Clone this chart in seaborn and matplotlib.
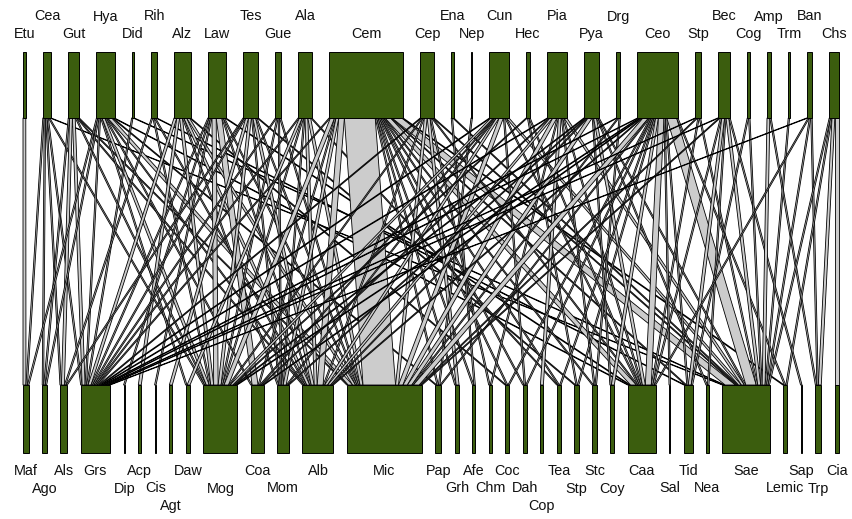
import pandas as pd
import numpy as np
import matplotlib
matplotlib.use("Agg")
import matplotlib.pyplot as plt
import seaborn as sns

# Species of the two levels, left to right
high_names = ["Etu", "Cea", "Gut", "Hya", "Did", "Rih", "Alz", "Law", "Tes", "Gue",
              "Ala", "Cem", "Cep", "Ena", "Nep", "Cun", "Hec", "Pia", "Pya", "Drg",
              "Ceo", "Stp", "Bec", "Cog", "Amp", "Trm", "Ban", "Chs"]
low_names = ["Maf", "Ago", "Als", "Grs", "Dip", "Acp", "Cis", "Agt", "Daw", "Mog",
             "Coa", "Mom", "Alb", "Mic", "Pap", "Grh", "Afe", "Chm", "Coc", "Dah",
             "Cop", "Tea", "Stp", "Stc", "Coy", "Caa", "Sal", "Tid", "Nea", "Sae",
             "Lemic", "Sap", "Trp", "Cia"]

# Interactions of each higher-level species: (lower species, count)
Etu = [("Maf", 2)]
Cea = [("Maf", 1), ("Ago", 1), ("Als", 1), ("Grs", 1), ("Mog", 1), ("Sae", 1)]
Gut = [("Ago", 1), ("Als", 2), ("Grs", 2), ("Mog", 1), ("Alb", 1), ("Mic", 1)]
Hya = [("Maf", 1), ("Ago", 1), ("Grs", 1), ("Daw", 1), ("Mog", 2), ("Coa", 1),
       ("Alb", 1), ("Mic", 3), ("Pap", 1), ("Caa", 1)]
Did = [("Grs", 1), ("Sae", 1)]
Rih = [("Als", 1), ("Mog", 1), ("Alb", 1), ("Tid", 1)]
Alz = [("Grs", 2), ("Acp", 2), ("Mog", 2), ("Mom", 1), ("Alb", 2), ("Mic", 2), ("Coc", 1)]
Law = [("Grs", 1), ("Dip", 1), ("Cis", 1), ("Mog", 3), ("Coa", 4), ("Alb", 1),
       ("Mic", 1), ("Caa", 1)]
Tes = [("Als", 1), ("Grs", 1), ("Agt", 2), ("Mog", 2), ("Mom", 1), ("Alb", 2),
       ("Mic", 1), ("Stp", 1)]
Gue = [("Grs", 1), ("Mog", 1), ("Mom", 1), ("Mic", 1)]
Ala = [("Grs", 1), ("Daw", 2), ("Mog", 1), ("Mom", 1), ("Alb", 2), ("Mic", 2), ("Tea", 1)]
Cem = [("Grs", 1), ("Mog", 3), ("Coa", 1), ("Mom", 2), ("Alb", 4), ("Mic", 22),
       ("Pap", 1), ("Grh", 1), ("Afe", 1), ("Coc", 1), ("Dah", 1), ("Tea", 1),
       ("Stc", 1), ("Caa", 4), ("Tid", 1), ("Sae", 7), ("Lemic", 1)]
Cep = [("Grs", 1), ("Mog", 1), ("Alb", 1), ("Mic", 2), ("Grh", 2), ("Chm", 1),
       ("Caa", 1), ("Sae", 1)]
Ena = [("Afe", 1), ("Sae", 1)]
Nep = [("Pap", 1)]
Cun = [("Grs", 1), ("Mog", 2), ("Coa", 1), ("Mom", 1), ("Alb", 2), ("Mic", 3),
       ("Dah", 1), ("Caa", 1), ("Sae", 2)]
Hec = [("Mog", 1), ("Stp", 1), ("Caa", 1)]
Pia = [("Grs", 1), ("Coa", 1), ("Alb", 2), ("Mic", 3), ("Chm", 1), ("Cop", 2),
       ("Stc", 1), ("Caa", 1), ("Sae", 2)]
Pya = [("Mog", 1), ("Mom", 1), ("Alb", 1), ("Mic", 3), ("Coy", 1), ("Caa", 2),
       ("Nea", 1), ("Sae", 1)]
Drg = [("Grs", 1), ("Mic", 1), ("Stc", 1)]
Ceo = [("Grs", 1), ("Mog", 1), ("Coa", 1), ("Alb", 1), ("Mic", 4), ("Pap", 1),
       ("Coc", 1), ("Dah", 1), ("Tea", 1), ("Stp", 1), ("Coy", 2), ("Caa", 4),
       ("Sal", 1), ("Tid", 1), ("Sae", 7), ("Lemic", 1)]
Stp = [("Grs", 1), ("Mic", 1), ("Caa", 1), ("Sae", 1)]
Bec = [("Grs", 1), ("Mic", 1), ("Caa", 1), ("Tid", 2), ("Nea", 1), ("Sae", 2), ("Sap", 1)]
Cog = [("Tid", 1), ("Sae", 1)]
Amp = [("Sae", 2), ("Trp", 1)]
Trm = [("Sae", 1)]
Ban = [("Grs", 1), ("Caa", 1), ("Sae", 1), ("Trp", 1)]
Chs = [("Sae", 1), ("Lemic", 1), ("Trp", 2), ("Cia", 3)]

partners = [Etu, Cea, Gut, Hya, Did, Rih, Alz, Law, Tes, Gue, Ala, Cem, Cep, Ena,
            Nep, Cun, Hec, Pia, Pya, Drg, Ceo, Stp, Bec, Cog, Amp, Trm, Ban, Chs]

# long table of links
rows = []
for hi, plist in enumerate(partners):
    for low, n in plist:
        rows.append((hi, low_names.index(low), n))
web = pd.DataFrame(rows, columns=["high", "low", "n"])

high_tot = web.groupby("high")["n"].sum().reindex(range(len(high_names))).values
low_tot = web.groupby("low")["n"].sum().reindex(range(len(low_names))).values

# layout (pixel space)
x0, x1 = 23, 839
span = x1 - x0
high_y = (52, 118)
low_y = (385, 453)
green = "#3b5d0e"

def box_lefts(tot, gap):
    scale = (span - gap * (len(tot) - 1)) / tot.sum()
    widths = tot * scale
    lefts = x0 + np.concatenate([[0], np.cumsum(widths[:-1] + gap)])
    return lefts, widths, scale

hl, hw, hs = box_lefts(high_tot, 17.0)
ll, lw, ls = box_lefts(low_tot, 13.3)

# segment of each link inside its boxes
web = web.sort_values(["high", "low"])
web["h0"] = hl[web["high"]] + (web.groupby("high")["n"].cumsum() - web["n"]) * hs
web = web.sort_values(["low", "high"])
web["l0"] = ll[web["low"]] + (web.groupby("low")["n"].cumsum() - web["n"]) * ls
web = web.sort_values(["high", "low"])

sns.set_theme(style="white")
plt.rcParams["font.family"] = ["Liberation Sans", "DejaVu Sans"]

fig = plt.figure(figsize=(8.52, 5.19), dpi=100)
ax = fig.add_axes([0, 0, 1, 1])
ax.set_xlim(0, 852)
ax.set_ylim(519, 0)
ax.axis("off")

for _, r in web.iterrows():
    ax.fill([r["h0"], r["h0"] + r["n"] * hs, r["l0"] + r["n"] * ls, r["l0"]],
            [high_y[1], high_y[1], low_y[0], low_y[0]],
            facecolor="#cccccc", edgecolor="black", linewidth=0.6, zorder=1)

ax.bar(hl, high_y[1] - high_y[0], width=hw, bottom=high_y[0], align="edge",
       color=green, edgecolor="black", linewidth=0.7, zorder=2)
ax.bar(ll, low_y[1] - low_y[0], width=lw, bottom=low_y[0], align="edge",
       color=green, edgecolor="black", linewidth=0.7, zorder=2)

fs = 10.4
renderer = fig.canvas.get_renderer()

def text_width(s):
    t = ax.text(0, 0, s, fontsize=fs)
    w = t.get_window_extent(renderer).width
    t.remove()
    return w

def label_rows(names, centers, margin):
    # lowest tier where the label clears the last label of that tier
    right = []
    out = []
    for s, c in zip(names, centers):
        w = text_width(s)
        r = 0
        while r < len(right) and c - w / 2 < right[r] + (margin if r == 0 else 0):
            r += 1
        if r == len(right):
            right.append(-1e9)
        right[r] = c + w / 2
        out.append(r)
    return out

hc = hl + hw / 2
lc = ll + lw / 2
for s, c, r in zip(high_names, hc, label_rows(high_names, hc, 10.4)):
    ax.text(c, 34 - 17.5 * r, s, fontsize=fs, ha="center", va="center", color="#111111")
for s, c, r in zip(low_names, lc, label_rows(low_names, lc, 9.3)):
    ax.text(c, 471 + 17.5 * r, s, fontsize=fs, ha="center", va="center", color="#111111")

fig.savefig("out.png", dpi=100)
